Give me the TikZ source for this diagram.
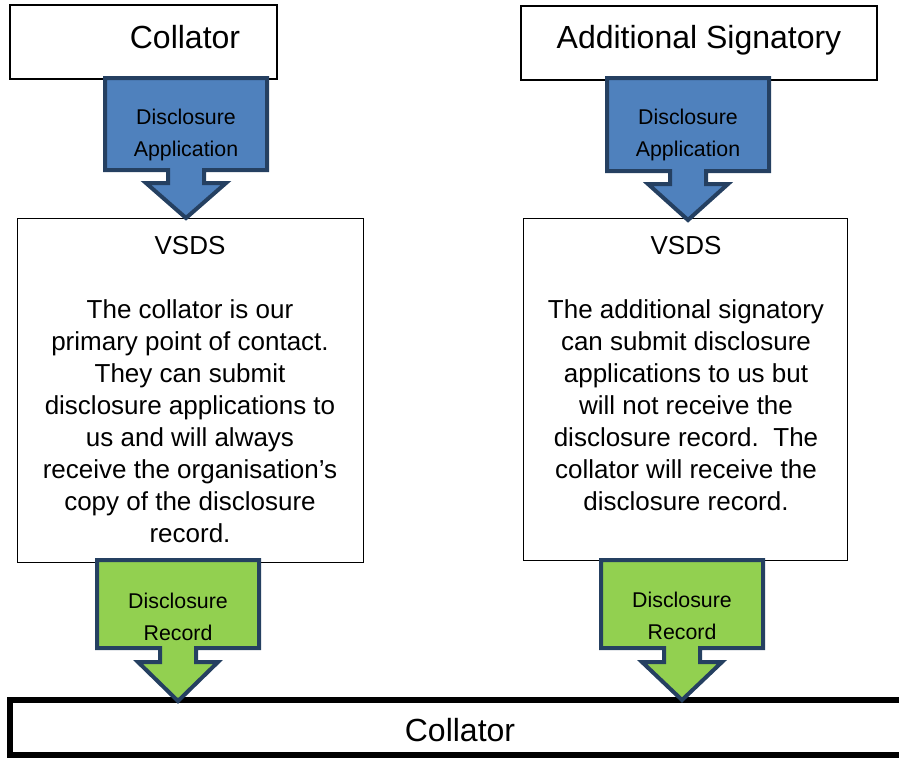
\documentclass[tikz,border=0pt]{standalone}
\usepackage{fontspec}
\setmainfont{Liberation Sans}
\definecolor{appblue}{HTML}{4F81BD}
\definecolor{recgreen}{HTML}{92D050}
\definecolor{edgeblue}{HTML}{254061}
\tikzset{
  bigtext/.style={font=\fontsize{24}{28}\selectfont, anchor=base},
  bodytext/.style={font=\fontsize{19.5}{24}\selectfont, align=center},
  arrowtext/.style={font=\fontsize{16}{24}\selectfont, align=center},
  blockarrow/.style={draw=edgeblue, line width=3pt, line join=miter}
}
\begin{document}
\begin{tikzpicture}[x=0.75pt, y=-0.75pt]
  \useasboundingbox (0,0) rectangle (899,758);
  \coordinate (TL1) at (10,5);
  \coordinate (TL2) at (277,79);
  \coordinate (TR1) at (521,6);
  \coordinate (TR2) at (877,80);
  \coordinate (ML1) at (17,218);
  \coordinate (ML2) at (363,562);
  \coordinate (MR1) at (523,218);
  \coordinate (MR2) at (847,560);
  \coordinate (B1) at (10,700);
  \coordinate (B2) at (904,755);
  \draw[line width=1.2pt] (TL1) rectangle (TL2);
  \draw[line width=1.2pt] (TR1) rectangle (TR2);
  \draw[line width=0.7pt] (ML1) rectangle (ML2);
  \draw[line width=0.7pt] (MR1) rectangle (MR2);
  \draw[line width=3.8pt] (B1) rectangle (B2);
  % block arrows
  \foreach \x/\top/\bot/\sh/\tip/\col in {186/78/170/183/218/appblue, 688/78/171/184/220/appblue,
                                         178/560/648/662/701/recgreen, 682/560/648/662/700/recgreen}{
    \draw[blockarrow, fill=\col] (\x-81,\top) -- (\x+81,\top) -- (\x+81,\bot) -- (\x+18,\bot)
      -- (\x+18,\sh) -- (\x+40,\sh) -- (\x,\tip) -- (\x-40,\sh) -- (\x-18,\sh)
      -- (\x-18,\bot) -- (\x-81,\bot) -- cycle;
  }
  \node[bigtext] (collatorTop) at (185,48) {Collator};
  \node[bigtext] (signatory) at (699,48) {Additional Signatory};
  \node[arrowtext] (appL) at (186,135) {Disclosure\\Application};
  \node[arrowtext] (appR) at (688,135) {Disclosure\\Application};
  \node[bodytext, anchor=north] (vsdsL) at (190,232) {VSDS\\[24pt]
    The collator is our\\primary point of contact.\\They can submit\\disclosure applications to\\us and will always\\receive the organisation’s\\copy of the disclosure\\record.};
  \node[bodytext, anchor=north] (vsdsR) at (686,232) {VSDS\\[24pt]
    The additional signatory\\can submit disclosure\\applications to us but\\will not receive the\\disclosure record.\ \ The\\collator will receive the\\disclosure record.};
  \node[arrowtext] (recL) at (178,617) {Disclosure\\Record};
  \node[arrowtext] (recR) at (682,616) {Disclosure\\Record};
  \node[bigtext] (collatorBot) at (460,741) {Collator};
\end{tikzpicture}
\end{document}
